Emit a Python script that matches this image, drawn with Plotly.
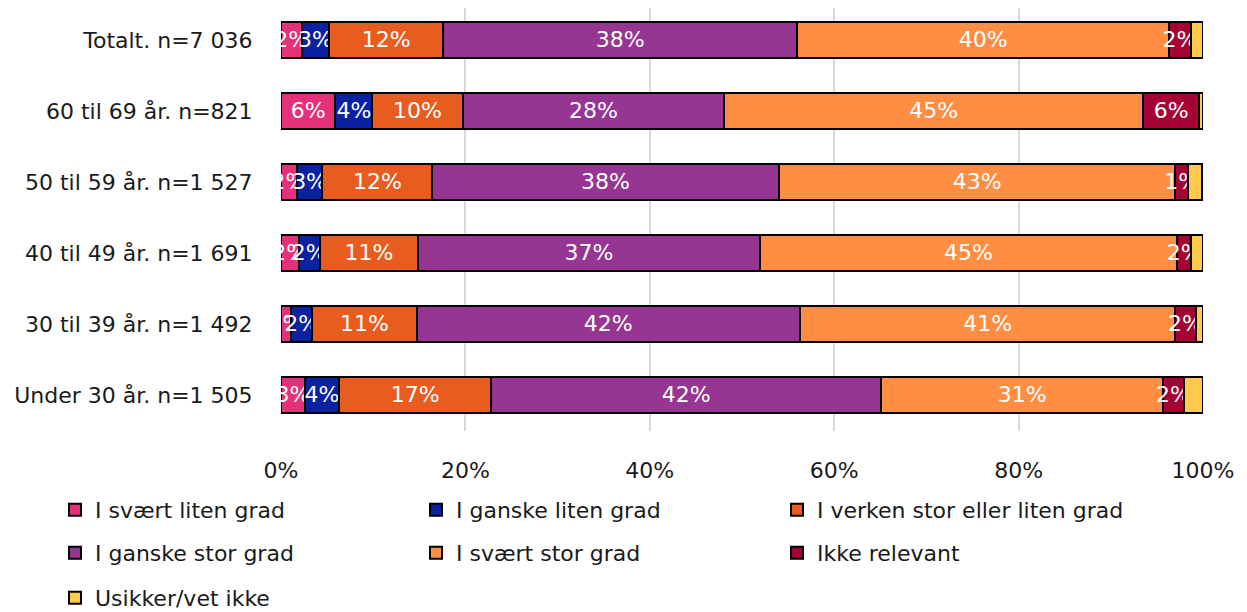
import plotly.graph_objects as go

categories = ["Totalt. n=7 036", "60 til 69 år. n=821", "50 til 59 år. n=1 527",
              "40 til 49 år. n=1 691", "30 til 39 år. n=1 492", "Under 30 år. n=1 505"]

series_names = ["I svært liten grad", "I ganske liten grad", "I verken stor eller liten grad",
                "I ganske stor grad", "I svært stor grad", "Ikke relevant", "Usikker/vet ikke"]

svaert_liten = [2.3, 5.9, 1.7, 1.9, 1.1, 2.6]
ganske_liten = [2.9, 4.0, 2.8, 2.3, 2.3, 3.7]
verken = [12.4, 9.8, 11.9, 10.7, 11.3, 16.5]
ganske_stor = [38.4, 28.4, 37.6, 37.0, 41.6, 42.3]
svaert_stor = [40.3, 45.4, 43.0, 45.3, 40.7, 30.6]
ikke_relevant = [2.4, 6.1, 1.4, 1.5, 2.2, 2.2]
usikker = [1.3, 0.4, 1.5, 1.3, 0.8, 2.1]

series_values = [svaert_liten, ganske_liten, verken, ganske_stor, svaert_stor, ikke_relevant, usikker]
colors = ["#E5317A", "#0A22A0", "#E85C20", "#973592", "#FF8E42", "#A50234", "#FFC94B"]
show_labels = [True, True, True, True, True, True, False]
legend_ids = ["legend", "legend", "legend", "legend2", "legend2", "legend2", "legend3"]

FONT = "DejaVu Sans"
FS = 22

fig = go.Figure()
for name, vals, col, lab, lg in zip(series_names, series_values, colors, show_labels, legend_ids):
    fig.add_trace(go.Bar(
        y=categories, x=vals, name=name, orientation="h",
        marker=dict(color=col, line=dict(color="#000000", width=2)),
        texttemplate="%{x:.0f}%" if lab else "",
        textposition="inside" if lab else "none",
        insidetextanchor="middle", textangle=0,
        textfont=dict(color="white", size=FS, family=FONT),
        hoverinfo="skip",
        legend=lg,
    ))

# plot area in figure coords: x 273..1195, y 0..423 (page adds 8px body margin)
def py(pix):
    return (423 - (pix - 5)) / 423.0

leg_common = dict(orientation="h", xref="paper", yref="paper", x=(47 - 273) / 922.0,
                  xanchor="left", yanchor="middle", entrywidth=316,
                  font=dict(size=FS, family=FONT, color="#1a1a1a"),
                  bgcolor="rgba(0,0,0,0)", traceorder="normal")

fig.update_layout(
    width=1247, height=612,
    barmode="stack", bargap=0.493,
    plot_bgcolor="white", paper_bgcolor="white",
    margin=dict(l=273, r=52, t=0, b=189),
    font=dict(family=FONT, size=FS, color="#1a1a1a"),
    uniformtext=dict(minsize=FS, mode="show"),
    legend=dict(**leg_common, y=py(507)),
    legend2=dict(**leg_common, y=py(550)),
    legend3=dict(**leg_common, y=py(595)),
    xaxis=dict(range=[0, 100], dtick=20, ticksuffix="%", showgrid=True,
               gridcolor="#d9d9d9", gridwidth=2, zeroline=False,
               ticks="outside", ticklen=20, tickcolor="rgba(0,0,0,0)",
               tickfont=dict(size=FS, family=FONT, color="#1a1a1a"), fixedrange=True),
    yaxis=dict(categoryorder="array", categoryarray=categories, range=[5.508, -0.45],
               ticks="outside", ticklen=23, tickcolor="rgba(0,0,0,0)",
               tickfont=dict(size=FS, family=FONT, color="#1a1a1a"), fixedrange=True),
    showlegend=True,
)

fig.write_html("out.html")
